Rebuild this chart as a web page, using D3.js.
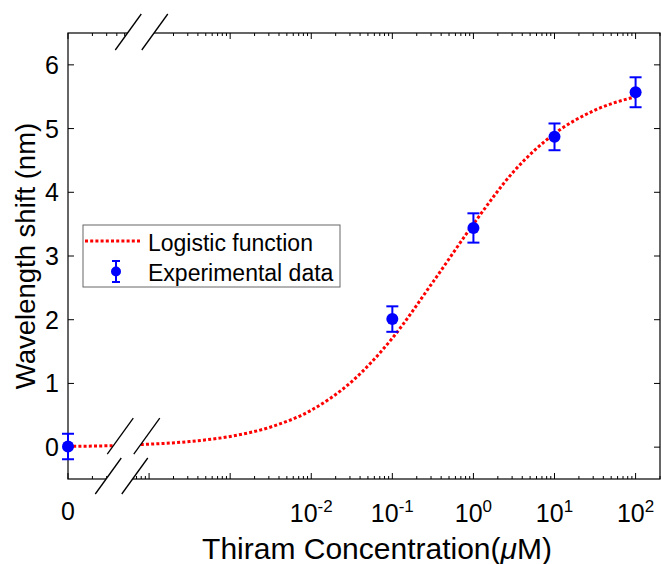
<!DOCTYPE html>
<html>
<head>
<meta charset="utf-8">
<script src="https://cdn.jsdelivr.net/npm/d3@7"></script>
<style>
  body { margin: 0; background: #fff; }
  text { font-family: "Liberation Sans", Arial, sans-serif; }
</style>
</head>
<body>
<script>
// measured points (0 is drawn at the left end of the log axis)
var conc = [0, 0.1, 1, 10, 100];
var shift = [0.01, 2.01, 3.44, 4.87, 5.57];
var shiftErr = [0.2, 0.2, 0.23, 0.21, 0.235];

// logistic fit
var fitConc = [1e-5, 3.16e-5, 1e-4, 3.16e-4, 1e-3, 3.16e-3, 1e-2, 3.16e-2, 0.1, 0.316, 1, 3.16, 10, 31.6, 100];
var fitShift = [0.012, 0.022, 0.046, 0.088, 0.168, 0.316, 0.58, 1.03, 1.71, 2.59, 3.5, 4.33, 4.92, 5.29, 5.5];

var yTicks = [0, 1, 2, 3, 4, 5, 6];
var xLabelExp = [-2, -1, 0, 1, 2];

var width = 661, height = 564;
var zeroAt = 1e-5;

var svg = d3.select("body").append("svg")
  .attr("width", width)
  .attr("height", height);

var x = d3.scaleLog().domain([zeroAt, 200]).range([68, 660]);
var y = d3.scaleLinear().domain([-0.5, 6.5]).range([479, 33]);

function xp(c) { return x(c === 0 ? zeroAt : c); }

// axis box
svg.append("rect")
  .attr("x", x.range()[0]).attr("y", y.range()[1])
  .attr("width", x.range()[1] - x.range()[0])
  .attr("height", y.range()[0] - y.range()[1])
  .attr("fill", "none").attr("stroke", "#000").attr("stroke-width", 1.2);

// x ticks, major + minor, on top and bottom
var xt = [];
for (var e = -5; e <= 2; e++) {
  for (var m = 1; m <= 9; m++) {
    var v = m * Math.pow(10, e);
    if (v <= 200) xt.push({ v: v, major: m === 1 });
  }
}
var gx = svg.append("g");
[y.range()[0], y.range()[1]].forEach(function(y0, k) {
  gx.selectAll(null).data(xt).enter().append("line")
    .attr("x1", function(d) { return x(d.v); })
    .attr("x2", function(d) { return x(d.v); })
    .attr("y1", y0)
    .attr("y2", function(d) { var l = d.major ? 6 : 3; return k === 0 ? y0 - l : y0 + l; })
    .attr("stroke", "#000").attr("stroke-width", 1);
});

// y ticks left and right
var gy = svg.append("g");
[x.range()[0], x.range()[1]].forEach(function(x0, k) {
  gy.selectAll(null).data(yTicks).enter().append("line")
    .attr("x1", x0).attr("x2", k === 0 ? x0 + 6 : x0 - 6)
    .attr("y1", function(d) { return y(d); })
    .attr("y2", function(d) { return y(d); })
    .attr("stroke", "#000").attr("stroke-width", 1);
});

gy.selectAll("text").data(yTicks).enter().append("text")
  .attr("x", 59).attr("y", function(d) { return y(d); })
  .attr("dy", "0.36em")
  .attr("text-anchor", "end")
  .attr("font-size", 25)
  .text(function(d) { return d; });

// x tick labels
svg.append("text")
  .attr("x", x(zeroAt)).attr("y", 520)
  .attr("text-anchor", "middle").attr("font-size", 25)
  .text("0");

var xl = svg.selectAll(".xl").data(xLabelExp).enter().append("text")
  .attr("class", "xl")
  .attr("x", function(d) { return x(Math.pow(10, d)); })
  .attr("y", 522)
  .attr("text-anchor", "middle")
  .attr("font-size", 25);
xl.append("tspan").text("10");
xl.append("tspan").attr("dy", -10).attr("font-size", 17)
  .text(function(d) { return d; });

// axis titles
var xt2 = svg.append("text")
  .attr("x", 377).attr("y", 559)
  .attr("text-anchor", "middle").attr("font-size", 30);
xt2.append("tspan").text("Thiram Concentration(");
xt2.append("tspan").attr("font-style", "italic").text("\u03bc");
xt2.append("tspan").text("M)");

svg.append("text")
  .attr("transform", "translate(35," + ((y.range()[0] + y.range()[1]) / 2) + ") rotate(-90)")
  .attr("text-anchor", "middle").attr("font-size", 27.5)
  .text("Wavelength shift (nm)");

// fit curve
var line = d3.line()
  .x(function(d) { return x(d[0]); })
  .y(function(d) { return y(d[1]); })
  .curve(d3.curveMonotoneX);

svg.append("path")
  .datum(d3.zip(fitConc, fitShift))
  .attr("d", line)
  .attr("fill", "none")
  .attr("stroke", "#ff0000")
  .attr("stroke-width", 3)
  .attr("stroke-dasharray", "3,2.2");

// data points with error bars
var pts = svg.append("g").selectAll("g")
  .data(d3.range(conc.length)).enter().append("g")
  .attr("stroke", "#0000ff").attr("fill", "#0000ff");

pts.append("line")
  .attr("x1", function(i) { return xp(conc[i]); })
  .attr("x2", function(i) { return xp(conc[i]); })
  .attr("y1", function(i) { return y(shift[i] - shiftErr[i]); })
  .attr("y2", function(i) { return y(shift[i] + shiftErr[i]); })
  .attr("stroke-width", 2);
[-1, 1].forEach(function(s) {
  pts.append("line")
    .attr("x1", function(i) { return xp(conc[i]) - 6; })
    .attr("x2", function(i) { return xp(conc[i]) + 6; })
    .attr("y1", function(i) { return y(shift[i] + s * shiftErr[i]); })
    .attr("y2", function(i) { return y(shift[i] + s * shiftErr[i]); })
    .attr("stroke-width", 2);
});
pts.append("circle")
  .attr("cx", function(i) { return xp(conc[i]); })
  .attr("cy", function(i) { return y(shift[i]); })
  .attr("r", 6).attr("stroke", "none");

// axis break marks: top edge, at the curve, bottom edge
var bx = x(7e-5);
var breaks = [
  { cx: bx + 5, cy: y.range()[1] - 1 },
  { cx: bx - 3, cy: y(0) - 11 },
  { cx: bx - 15, cy: y.range()[0] - 3 }
];
var hw = 13, hh = 18, gap = 26.5;
breaks.forEach(function(b) {
  var xa = b.cx - gap / 2, xb = b.cx + gap / 2;
  var g = svg.append("g");
  g.append("polygon")
    .attr("points", [
      [xa - hw, b.cy + hh], [xa + hw, b.cy - hh],
      [xb + hw, b.cy - hh], [xb - hw, b.cy + hh]
    ].join(" "))
    .attr("fill", "#fff");
  [xa, xb].forEach(function(c) {
    g.append("line")
      .attr("x1", c - hw).attr("y1", b.cy + hh)
      .attr("x2", c + hw).attr("y2", b.cy - hh)
      .attr("stroke", "#000").attr("stroke-width", 1.3);
  });
});

// legend
var lg = svg.append("g").attr("transform", "translate(83,225)");
lg.append("rect")
  .attr("width", 257).attr("height", 62)
  .attr("fill", "#fff").attr("stroke", "#666").attr("stroke-width", 1);
lg.append("line")
  .attr("x1", 2).attr("x2", 57).attr("y1", 16).attr("y2", 16)
  .attr("stroke", "#ff0000").attr("stroke-width", 3)
  .attr("stroke-dasharray", "3,2.2");
lg.append("text").attr("x", 65).attr("y", 26).attr("font-size", 23)
  .text("Logistic function");
lg.append("line")
  .attr("x1", 33).attr("x2", 33).attr("y1", 36).attr("y2", 57)
  .attr("stroke", "#0000ff").attr("stroke-width", 2);
[36, 57].forEach(function(yy) {
  lg.append("line")
    .attr("x1", 29).attr("x2", 37).attr("y1", yy).attr("y2", yy)
    .attr("stroke", "#0000ff").attr("stroke-width", 2);
});
lg.append("circle").attr("cx", 33).attr("cy", 46.5).attr("r", 5).attr("fill", "#0000ff");
lg.append("text").attr("x", 65).attr("y", 56).attr("font-size", 23)
  .text("Experimental data");
</script>
</body>
</html>
